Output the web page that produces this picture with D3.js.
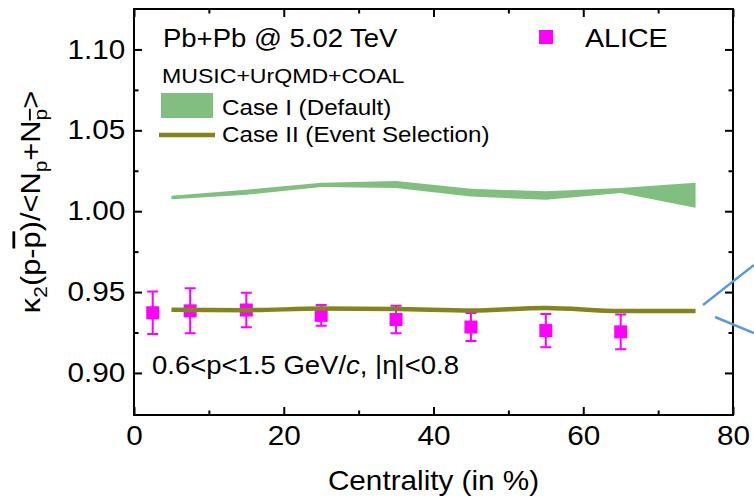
<!DOCTYPE html>
<html><head><meta charset="utf-8">
<script src="https://cdn.jsdelivr.net/npm/d3@7"></script>
<style>body{margin:0;background:#fff} text{font-family:"Liberation Sans",Arial,sans-serif;fill:#000}</style>
</head><body><svg id="c" width="754" height="501"></svg>
<script>
// ---- data ----
const modelCentrality = [5, 15, 25, 35, 45, 55, 65, 75];
const caseILow  = [1.0074, 1.0102, 1.0150, 1.0144, 1.0091, 1.0070, 1.0112, 1.0021];
const caseIHigh = [1.0095, 1.0133, 1.0176, 1.0186, 1.0138, 1.0123, 1.0144, 1.0176];
const caseII    = [0.9390, 0.9388, 0.9398, 0.9396, 0.9386, 0.9402, 0.9383, 0.9383];
const aliceCentrality = [2.5, 7.5, 15, 25, 35, 45, 55, 65];
const aliceValue = [0.9372, 0.9384, 0.9389, 0.9356, 0.9330, 0.9284, 0.9262, 0.9254];
const aliceError = [0.0131, 0.0139, 0.0107, 0.0064, 0.0085, 0.0086, 0.0103, 0.0108];
const xTicks = [0, 20, 40, 60, 80];
const xMinorTicks = [10, 30, 50, 70];
const yTicks = [0.90, 0.95, 1.00, 1.05, 1.10];
const yMinorTicks = [0.925, 0.975, 1.025, 1.075];

// ---- layout ----
const L = 134, R = 733, T = 9, B = 415;
const SX = 1.1; // horizontal text stretch of the original figure
const svg = d3.select("#c");
const x = d3.scaleLinear([0, 80], [L, R]);
const y = d3.scaleLinear([0.874, 1.125], [B, T]);

const magenta = "#ff00ff", green = "#80bf80", olive = "#84841c", blue = "#5b9bd5";

// green band (Case I)
const bandData = modelCentrality.map((c, i) => ({c, lo: caseILow[i], hi: caseIHigh[i]}));
svg.append("path").datum(bandData)
  .attr("d", d3.area().x(d => x(d.c)).y0(d => y(d.lo)).y1(d => y(d.hi)))
  .attr("fill", green);

// ALICE points
const alice = aliceCentrality.map((c, i) => ({c, v: aliceValue[i], e: aliceError[i]}));
const ag = svg.append("g");
ag.selectAll(".eb").data(alice).join("path")
  .attr("d", d => {
    const cx = x(d.c), y1 = y(d.v + d.e), y2 = y(d.v - d.e);
    return `M${cx},${y1}V${y2}M${cx-5.5},${y1}H${cx+5.5}M${cx-5.5},${y2}H${cx+5.5}`;
  })
  .attr("stroke", magenta).attr("stroke-width", 2).attr("fill", "none");
ag.selectAll("rect").data(alice).join("rect")
  .attr("x", d => x(d.c) - 6.5).attr("y", d => y(d.v) - 6.5)
  .attr("width", 13).attr("height", 13).attr("fill", magenta);

// olive line (Case II)
svg.append("path").datum(modelCentrality.map((c, i) => ({c, v: caseII[i]})))
  .attr("d", d3.line().x(d => x(d.c)).y(d => y(d.v)).curve(d3.curveMonotoneX))
  .attr("fill", "none").attr("stroke", olive).attr("stroke-width", 4.5);

// ---- axes (ticks inward, mirrored) ----
function styleAxis(g) {
  g.select(".domain").remove();
  g.selectAll("line").attr("stroke", "#000").attr("stroke-width", 2);
}
const xAx = svg.append("g").attr("transform", `translate(0,${B})`)
  .call(d3.axisBottom(x).tickValues(xTicks).tickSizeInner(-8).tickSizeOuter(0).tickPadding(11).tickFormat(d3.format("d")));
styleAxis(xAx);
xAx.selectAll("text").attr("font-size", 27).attr("font-family", "Liberation Sans").attr("fill", "#000").attr("transform", `scale(${SX},1)`);
svg.append("g").attr("transform", `translate(0,${B})`)
  .call(d3.axisBottom(x).tickValues(xMinorTicks).tickSizeInner(-4.5).tickSizeOuter(0).tickFormat("")).call(styleAxis);
svg.append("g").attr("transform", `translate(0,${T})`)
  .call(d3.axisTop(x).tickValues(xTicks).tickSizeInner(-8).tickSizeOuter(0).tickFormat("")).call(styleAxis);
svg.append("g").attr("transform", `translate(0,${T})`)
  .call(d3.axisTop(x).tickValues(xMinorTicks).tickSizeInner(-4.5).tickSizeOuter(0).tickFormat("")).call(styleAxis);

const yAx = svg.append("g").attr("transform", `translate(${L},0)`)
  .call(d3.axisLeft(y).tickValues(yTicks).tickSizeInner(-8).tickSizeOuter(0).tickPadding(8).tickFormat(d3.format(".2f")));
styleAxis(yAx);
yAx.selectAll("text").attr("font-size", 27).attr("font-family", "Liberation Sans").attr("fill", "#000").attr("transform", `scale(${SX},1)`);
svg.append("g").attr("transform", `translate(${L},0)`)
  .call(d3.axisLeft(y).tickValues(yMinorTicks).tickSizeInner(-4.5).tickSizeOuter(0).tickFormat("")).call(styleAxis);
svg.append("g").attr("transform", `translate(${R},0)`)
  .call(d3.axisRight(y).tickValues(yTicks).tickSizeInner(-8).tickSizeOuter(0).tickFormat("")).call(styleAxis);
svg.append("g").attr("transform", `translate(${R},0)`)
  .call(d3.axisRight(y).tickValues(yMinorTicks).tickSizeInner(-4.5).tickSizeOuter(0).tickFormat("")).call(styleAxis);

svg.append("rect").attr("x", L).attr("y", T).attr("width", R - L).attr("height", B - T)
  .attr("fill", "none").attr("stroke", "#000").attr("stroke-width", 2);

// ---- texts ----
function txt(xp, yp, size, anchor) {
  return svg.append("text").attr("transform", `translate(${xp},${yp}) scale(${SX},1)`)
    .attr("font-size", size).attr("text-anchor", anchor || "start");
}
txt((L + R) / 2, 490, 27, "middle").text("Centrality (in %)");

// y title
const yt = svg.append("text").attr("transform", "translate(40,202) rotate(-90) scale(1.1,1)")
  .attr("font-size", 28).attr("text-anchor", "middle");
yt.append("tspan").text("κ");
yt.append("tspan").attr("font-size", 19).attr("dy", 7).text("2");
yt.append("tspan").attr("dy", -7).text("(p-");
yt.append("tspan").attr("text-decoration", "overline").text("p");
yt.append("tspan").text(")/<N");
yt.append("tspan").attr("font-size", 19).attr("dy", 7).text("p");
yt.append("tspan").attr("dy", -7).text("+N");
yt.append("tspan").attr("font-size", 19).attr("dy", 7).attr("text-decoration", "overline").text("p");
yt.append("tspan").attr("dy", -7).text(">");

txt(163, 47, 25).text("Pb+Pb @ 5.02 TeV");
txt(162, 83, 21).text("MUSIC+UrQMD+COAL");
svg.append("rect").attr("x", 161).attr("y", 93).attr("width", 52).attr("height", 25).attr("fill", green);
txt(222, 115, 22).text("Case I (Default)");
svg.append("line").attr("x1", 159).attr("x2", 215).attr("y1", 135).attr("y2", 135)
  .attr("stroke", olive).attr("stroke-width", 4.5);
txt(222, 142, 22).text("Case II (Event Selection)");

svg.append("rect").attr("x", 539).attr("y", 30).attr("width", 14).attr("height", 14).attr("fill", magenta);
txt(585, 47, 26).text("ALICE");

const kin = txt(152, 374, 25);
kin.append("tspan").text("0.6<p<1.5 GeV/");
kin.append("tspan").attr("font-style", "italic").text("c");
kin.append("tspan").text(", |η|<0.8");

// blue callout lines (decoration outside the frame)
svg.append("line").attr("x1", 703).attr("y1", 305).attr("x2", 754).attr("y2", 265)
  .attr("stroke", blue).attr("stroke-width", 2.5);
svg.append("line").attr("x1", 715).attr("y1", 317).attr("x2", 754).attr("y2", 333)
  .attr("stroke", blue).attr("stroke-width", 2.5);
</script></body></html>
